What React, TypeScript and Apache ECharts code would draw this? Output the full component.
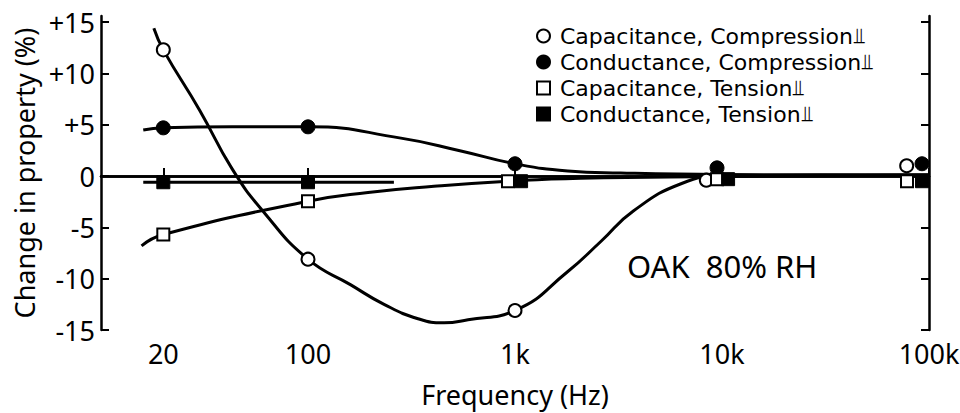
import React, { useEffect, useRef } from "react";
import * as echarts from "echarts";

const FONT = "'Noto Sans', 'DejaVu Sans', sans-serif";
const LEGEND_FONT = "'DejaVu Sans', sans-serif";

const tickFreqs = [20, 100, 1000, 10000, 100000];
const tickLabels = ["20", "100", "1k", "10k", "100k"];
const yTicks = [-15, -10, -5, 0, 5, 10, 15];

const seriesNames = [
  "Capacitance, Compression⫫",
  "Conductance, Compression⫫",
  "Capacitance, Tension⫫",
  "Conductance, Tension⫫",
];

// Capacitance, compression (open circles)
const capCompMarkF = [20, 100, 1000, 8400, 78000];
const capCompMarkV = [12.3, -8.1, -13.1, -0.4, 1.0];
const capCompCurveF = [18, 20, 30, 43, 60.5, 100, 161, 233, 340, 454, 593, 1000, 1800, 2590, 3730, 6430, 10000, 30000, 100000];
const capCompCurveV = [14.4, 12.3, 6.4, 0.7, -3.4, -8.1, -10.6, -12.5, -13.9, -14.3, -14.0, -13.1, -9.3, -6.4, -3.4, -0.7, 0, 0.1, 0.1];

// Conductance, compression (filled circles)
const condCompMarkF = [20, 100, 1000, 9460, 92500];
const condCompMarkV = [4.7, 4.8, 1.2, 0.8, 1.2];
const condCompCurveF = [16, 20, 43, 100, 281, 548, 1000, 1800, 3240, 10000, 100000];
const condCompCurveV = [4.5, 4.7, 4.8, 4.8, 3.7, 2.45, 1.2, 0.5, 0.3, 0.15, 0.1];

// Capacitance, tension (open squares)
const capTensMarkF = [20, 100, 925, 9460, 78300];
const capTensMarkV = [-5.7, -2.45, -0.5, -0.3, -0.5];
const capTensCurveF = [15.7, 20, 100, 195, 406, 925, 2070, 10000, 100000];
const capTensCurveV = [-6.8, -5.7, -2.45, -1.6, -1.0, -0.5, -0.2, -0.05, 0.1];

// Conductance, tension (filled squares)
const condTensMarkF = [20, 100, 1070, 10700, 92500];
const condTensMarkV = [-0.6, -0.6, -0.5, -0.3, -0.5];
const condTensCurveF = [16, 20, 100, 260];
const condTensCurveV = [-0.6, -0.6, -0.6, -0.6];

const pts = (f: number[], v: number[]) => f.map((x, i) => [Math.log10(x), v[i]]);

export default function App() {
  const ref = useRef<HTMLDivElement>(null);
  useEffect(() => {
    if (!ref.current) return;
    const chart = echarts.init(ref.current, undefined, { renderer: "svg" });
    const tickPos = tickFreqs.map((f) => Math.log10(f));
    const fmtX = (v: number) => {
      let best = 0;
      tickPos.forEach((p, i) => {
        if (Math.abs(p - v) < Math.abs(tickPos[best] - v)) best = i;
      });
      return tickLabels[best];
    };
    const lineStyle = { color: "#000", width: 3 };
    const curve = (f: number[], v: number[], extra: any = {}) => ({
      type: "line",
      data: pts(f, v),
      smooth: 0.5,
      showSymbol: false,
      symbol: "none",
      lineStyle,
      z: 2,
      silent: true,
      ...extra,
    });
    const open = { color: "#fff", borderColor: "#000", borderWidth: 2, opacity: 1 };
    const filled = { color: "#000", borderColor: "#000", borderWidth: 1, opacity: 1 };
    const marks = (name: string, f: number[], v: number[], symbol: string, style: any, size: number) => ({
      type: "scatter",
      name,
      data: pts(f, v),
      symbol,
      symbolSize: size,
      itemStyle: style,
      emphasis: { disabled: true },
      z: 5,
    });
    const axisLine = { show: true, lineStyle: { color: "#000", width: 2.5 } };
    chart.setOption({
      animation: false,
      backgroundColor: "#fff",
      textStyle: { fontFamily: FONT, color: "#000" },
      grid: { left: 101, right: 31, top: 16, bottom: 83, outerBoundsMode: "none", containLabel: false },
      legend: {
        orient: "vertical",
        left: 531,
        top: 20,
        itemGap: 4,
        itemWidth: 13,
        itemHeight: 13,
        textStyle: { fontSize: 22, lineHeight: 22, color: "#000", fontFamily: LEGEND_FONT, padding: [0, 0, 0, 5] },
        data: seriesNames,
      },
      xAxis: [
        {
          type: "value",
          min: 1,
          max: 5,
          position: "bottom",
          axisLine,
          splitLine: { show: false },
          axisTick: { show: true, inside: true, length: 8, customValues: tickPos, lineStyle: { color: "#000", width: 2 } },
          axisLabel: { customValues: tickPos, formatter: fmtX, fontSize: 27, color: "#000", margin: 10, fontFamily: FONT },
          name: "Frequency (Hz)",
          nameLocation: "middle",
          nameGap: 51,
          nameTextStyle: { fontSize: 27, color: "#000", fontFamily: FONT },
        },
        {
          type: "value",
          min: 1,
          max: 5,
          position: "top",
          axisLine,
          splitLine: { show: false },
          axisTick: { show: true, inside: true, length: 8, customValues: tickPos, lineStyle: { color: "#000", width: 2 } },
          axisLabel: { show: false },
        },
      ],
      yAxis: [
        {
          type: "value",
          min: -15,
          max: 15.6,
          position: "left",
          axisLine,
          splitLine: { show: false },
          axisTick: { show: true, inside: true, length: 8, customValues: yTicks, lineStyle: { color: "#000", width: 2 } },
          axisLabel: {
            customValues: yTicks,
            formatter: (v: number) => (v > 0 ? "+" + v : String(v)),
            fontSize: 27,
            color: "#000",
            margin: 6,
            fontFamily: FONT,
          },
          name: "Change in property (%)",
          nameLocation: "middle",
          nameRotate: 90,
          nameGap: 63,
          nameTextStyle: { fontSize: 27, color: "#000", fontFamily: FONT },
        },
        {
          type: "value",
          min: -15,
          max: 15.6,
          position: "right",
          axisLine,
          splitLine: { show: false },
          axisTick: { show: true, inside: true, length: 8, customValues: yTicks, lineStyle: { color: "#000", width: 2 } },
          axisLabel: { show: false },
        },
      ],
      graphic: [
        {
          type: "text",
          left: 627,
          top: 250,
          style: { text: "OAK  80% RH", fontSize: 31, fill: "#000", fontFamily: FONT },
        },
      ],
      series: [
        curve(capCompCurveF, capCompCurveV, {
          markLine: {
            silent: true,
            symbol: ["none", "none"],
            label: { show: false },
            lineStyle: { color: "#000", width: 1.3, type: "solid" },
            data: [{ yAxis: 0 }],
          },
        }),
        curve(condCompCurveF, condCompCurveV),
        curve(capTensCurveF, capTensCurveV),
        curve(condTensCurveF, condTensCurveV),
        marks(seriesNames[0], capCompMarkF, capCompMarkV, "circle", open, 13),
        marks(seriesNames[1], condCompMarkF, condCompMarkV, "circle", filled, 14),
        marks(seriesNames[2], capTensMarkF, capTensMarkV, "rect", open, 12),
        marks(seriesNames[3], condTensMarkF, condTensMarkV, "rect", filled, 13),
      ],
    });
    return () => chart.dispose();
  }, []);
  return <div ref={ref} style={{ position: "absolute", left: 0, top: 0, width: 960, height: 413 }} />;
}
